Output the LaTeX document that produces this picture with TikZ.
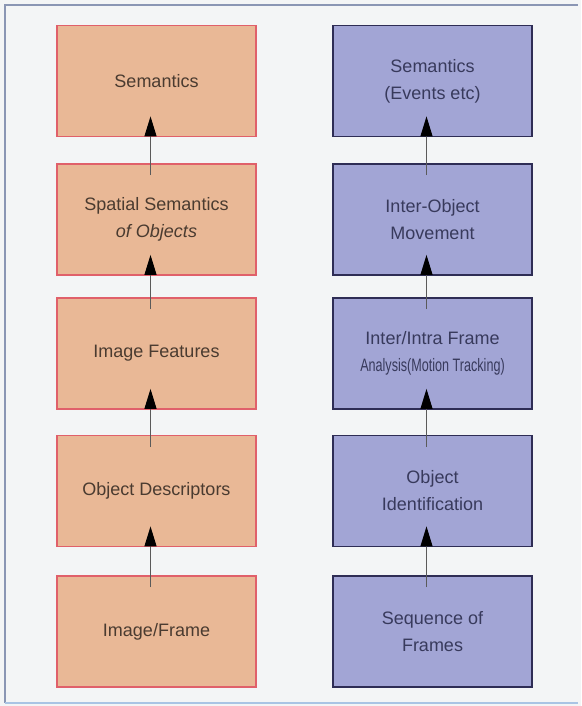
\documentclass[tikz,border=0pt]{standalone}
\usepackage{fontspec}
\setmainfont{Liberation Sans}
\usetikzlibrary{arrows.meta}
\definecolor{pagebg}{HTML}{F3F5F6}
\definecolor{framecol}{HTML}{8A96B4}
\definecolor{framelow}{HTML}{A9C4E4}
\definecolor{peachfill}{HTML}{E9B896}
\definecolor{peachline}{HTML}{E0606A}
\definecolor{peachtext}{HTML}{4A3B30}
\definecolor{lavfill}{HTML}{A2A5D5}
\definecolor{lavline}{HTML}{2E2D55}
\definecolor{lavtext}{HTML}{383A5C}
\definecolor{linkcol}{HTML}{5A5A5A}
\begin{document}
\begin{tikzpicture}[x=1pt,y=-1pt,
  boxbase/.style={rectangle, minimum width=199pt, minimum height=111pt,
    line width=1.8pt, align=center, inner sep=0pt,
    font=\fontsize{18}{27}\selectfont},
  stillbox/.style={boxbase, draw=peachline, fill=peachfill, text=peachtext},
  motionbox/.style={boxbase, draw=lavline, fill=lavfill, text=lavtext},
  link/.style={draw=linkcol, line width=1.1pt,
    -{Triangle[length=20pt,width=12pt,fill=black,color=black]}}
]
% page and frame
\fill[pagebg] (0,0) rectangle (581,706);
\useasboundingbox (0,0) rectangle (581,706);
\draw[framecol, line width=1.5pt] (5,703) -- (5,5) -- (578,5);
\draw[framelow, line width=1.5pt] (5,703) -- (578,703);

% left column: still images
\node[stillbox] (l1) at (156.5,81)    {Semantics};
\node[stillbox] (l2) at (156.5,219.5) {Spatial Semantics\\\itshape of Objects};
\node[stillbox] (l3) at (156.5,353.5) {Image Features};
\node[stillbox] (l4) at (156.5,491)   {Object Descriptors};
\node[stillbox] (l5) at (156.5,631.5) {Image/Frame};

% right column: video
\node[motionbox] (r1) at (432.5,81)    {Semantics\\(Events etc)};
\node[motionbox] (r2) at (432.5,219.5) {Inter-Object\\Movement};
\node[motionbox] (r3) at (432.5,353.5) {Inter/Intra Frame\\\scalebox{0.7}[1]{Analysis(Motion Tracking)}};
\node[motionbox] (r4) at (432.5,491)   {Object\\Identification};
\node[motionbox] (r5) at (432.5,631.5) {Sequence of\\Frames};

% connectors
\foreach \lo/\hi in {l2/l1,l3/l2,l4/l3,l5/l4,r2/r1,r3/r2,r4/r3,r5/r4}{
  \draw[link] ([xshift=-6pt,yshift=-12pt]\lo.north) -- ([xshift=-6pt,yshift=21pt]\hi.south);
}
\end{tikzpicture}
\end{document}
